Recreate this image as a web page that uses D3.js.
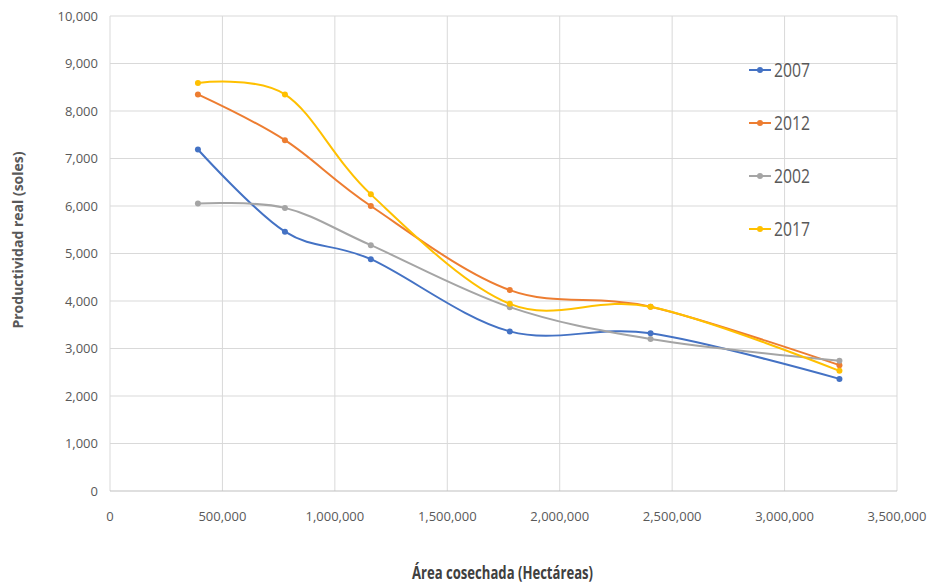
<!DOCTYPE html>
<html>
<head>
<meta charset="utf-8">
<script src="https://cdn.jsdelivr.net/npm/d3@7"></script>
<style>
  html, body { margin: 0; padding: 0; background: #fff; overflow: hidden; }
  svg { display: block; }
  text { font-family: "Open Sans", sans-serif; }
</style>
</head>
<body>
<div id="graph"></div>
<script>
// Data
const areas = [391000, 778000, 1160000, 1778000, 2404000, 3244000];
const seriesNames = ["2007", "2012", "2002", "2017"];
const values2007 = [7190, 5460, 4880, 3360, 3320, 2360];
const values2012 = [8350, 7385, 6000, 4230, 3880, 2650];
const values2002 = [6055, 5960, 5175, 3870, 3200, 2740];
const values2017 = [8590, 8350, 6245, 3940, 3880, 2530];
const seriesColors = ["#4472C4", "#ED7D31", "#A5A5A5", "#FFC000"];
const xTicks = [0, 500000, 1000000, 1500000, 2000000, 2500000, 3000000, 3500000];
const yTicks = [0, 1000, 2000, 3000, 4000, 5000, 6000, 7000, 8000, 9000, 10000];

const allValues = [values2007, values2012, values2002, values2017];

const width = 929, height = 585;
const margin = {top: 16, right: 32, bottom: 94, left: 110};
const innerWidth = width - margin.left - margin.right;
const innerHeight = height - margin.top - margin.bottom;

const svg = d3.select("#graph").append("svg")
    .attr("width", width)
    .attr("height", height);

const g = svg.append("g")
    .attr("transform", `translate(${margin.left},${margin.top})`);

const xScale = d3.scaleLinear().domain([0, 3500000]).range([0, innerWidth]);
const yScale = d3.scaleLinear().domain([0, 10000]).range([innerHeight, 0]);
const fmt = d3.format(",");

// Gridlines
g.append("g")
    .selectAll("line")
    .data(yTicks.filter(d => d > 0))
    .join("line")
    .attr("x1", 0).attr("x2", innerWidth)
    .attr("y1", d => yScale(d)).attr("y2", d => yScale(d))
    .attr("stroke", "#d9d9d9").attr("stroke-width", 1);

g.append("g")
    .selectAll("line")
    .data(xTicks)
    .join("line")
    .attr("x1", d => xScale(d)).attr("x2", d => xScale(d))
    .attr("y1", 0).attr("y2", innerHeight)
    .attr("stroke", "#d9d9d9").attr("stroke-width", 1);

// Bottom axis line
g.append("line")
    .attr("x1", 0).attr("x2", innerWidth)
    .attr("y1", innerHeight).attr("y2", innerHeight)
    .attr("stroke", "#bfbfbf").attr("stroke-width", 1);

// Tick labels
g.append("g")
    .selectAll("text")
    .data(yTicks)
    .join("text")
    .attr("x", -12)
    .attr("y", d => yScale(d))
    .attr("dy", "0.35em")
    .attr("text-anchor", "end")
    .attr("font-size", 13)
    .attr("fill", "#595959")
    .text(d => fmt(d));

g.append("g")
    .selectAll("text")
    .data(xTicks)
    .join("text")
    .attr("x", d => xScale(d))
    .attr("y", innerHeight + 30)
    .attr("text-anchor", "middle")
    .attr("font-size", 13)
    .attr("fill", "#595959")
    .text(d => fmt(d));

// Axis titles
svg.append("text")
    .attr("transform", "translate(23,240) rotate(-90)")
    .attr("text-anchor", "middle")
    .attr("font-size", 14)
    .attr("font-weight", "bold")
    .attr("fill", "#595959")
    .text("Productividad real (soles)");

svg.append("text")
    .attr("x", 412)
    .attr("y", 579)
    .attr("font-size", 17)
    .attr("font-weight", "bold")
    .attr("fill", "#404040")
    .attr("textLength", 181)
    .attr("lengthAdjust", "spacingAndGlyphs")
    .text("Área cosechada (Hectáreas)");

// Lines
const line = d3.line()
    .x((d, i) => xScale(areas[i]))
    .y(d => yScale(d))
    .curve(d3.curveCatmullRom.alpha(0));

allValues.forEach((vals, s) => {
    g.append("path")
        .datum(vals)
        .attr("fill", "none")
        .attr("stroke", seriesColors[s])
        .attr("stroke-width", 2)
        .attr("d", line);

    g.append("g")
        .selectAll("circle")
        .data(vals)
        .join("circle")
        .attr("cx", (d, i) => xScale(areas[i]))
        .attr("cy", d => yScale(d))
        .attr("r", 3)
        .attr("fill", seriesColors[s]);
});

// Legend
const legend = svg.append("g");
seriesNames.forEach((name, i) => {
    const y = 70 + i * 53;
    legend.append("line")
        .attr("x1", 749).attr("x2", 771)
        .attr("y1", y).attr("y2", y)
        .attr("stroke", seriesColors[i]).attr("stroke-width", 2);
    legend.append("circle")
        .attr("cx", 760).attr("cy", y).attr("r", 3)
        .attr("fill", seriesColors[i]);
    legend.append("text")
        .attr("x", 774).attr("y", y)
        .attr("dy", "0.35em")
        .attr("font-size", 20)
        .attr("fill", "#595959")
        .attr("textLength", 36)
        .attr("lengthAdjust", "spacingAndGlyphs")
        .text(name);
});
</script>
</body>
</html>
